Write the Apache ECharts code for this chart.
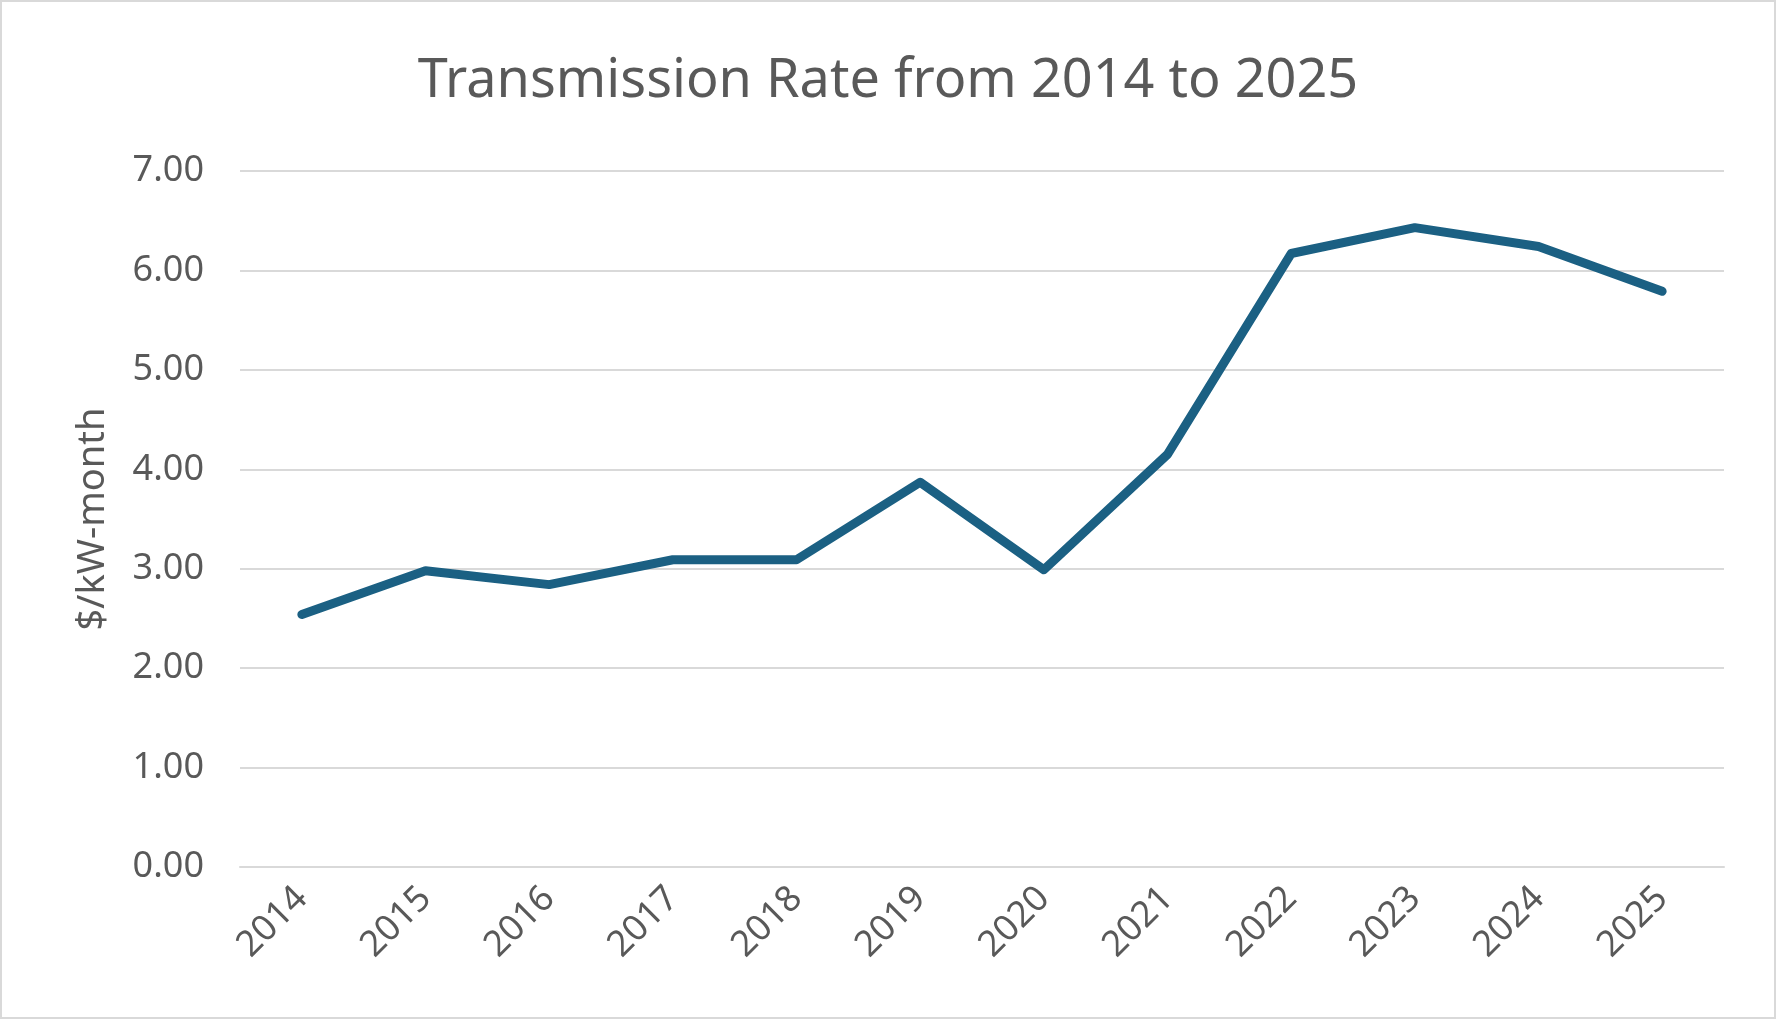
<!DOCTYPE html>
<html>
<head>
<meta charset="utf-8">
<title>Transmission Rate from 2014 to 2025</title>
<script src="https://cdn.jsdelivr.net/npm/echarts@6/dist/echarts.min.js"></script>
<style>
    html, body { margin: 0; padding: 0; background: #fff; }
    #chart { width: 1776px; height: 1019px; box-sizing: border-box; border: 2px solid #d9d9d9; }
</style>
</head>
<body>
<div id="chart"></div>
<script>
//数据
var years = ["2014", "2015", "2016", "2017", "2018", "2019", "2020", "2021", "2022", "2023", "2024", "2025"];
var rates = [2.54, 2.98, 2.84, 3.09, 3.09, 3.87, 2.99, 4.15, 6.17, 6.43, 6.24, 5.79];
var yTicks = [0, 1, 2, 3, 4, 5, 6, 7];

var textColor = "#595959";
var fontName = "Noto Sans";

//初始化图表实例
var rateChart = echarts.init(document.getElementById("chart"));

//图表配置项
var option = {
    animation: false,
    title: {
        text: "Transmission Rate from 2014 to 2025",
        left: "center",
        top: 48,
        textStyle: {
            color: textColor,
            fontFamily: fontName,
            fontSize: 54,
            fontWeight: "normal"
        }
    },
    grid: {
        left: 238,
        right: 50,
        top: 169,
        bottom: 150,
        containLabel: false
    },
    xAxis: {
        type: "category",
        data: years,
        boundaryGap: true,
        axisLine: { show: true, lineStyle: { color: "#d9d9d9", width: 2 } },
        axisTick: { show: false },
        axisLabel: {
            rotate: 45,
            margin: 26,
            color: textColor,
            fontFamily: fontName,
            fontSize: 36
        }
    },
    yAxis: {
        type: "value",
        min: yTicks[0],
        max: yTicks[yTicks.length - 1],
        interval: 1,
        name: "$/kW-month",
        nameLocation: "middle",
        nameGap: 128,
        nameRotate: 90,
        nameTextStyle: {
            color: textColor,
            fontFamily: fontName,
            fontSize: 38
        },
        axisLine: { show: false },
        axisTick: { show: false },
        axisLabel: {
            margin: 36,
            color: textColor,
            fontFamily: fontName,
            fontSize: 36,
            formatter: function(v) { return v.toFixed(2); }
        },
        splitLine: { lineStyle: { color: "#d9d9d9", width: 2 } }
    },
    series: [
        {
            name: "Transmission Rate",
            type: "line",
            data: rates,
            symbol: "none",
            lineStyle: { color: "#1b6083", width: 9, cap: "round", join: "round" }
        }
    ]
};

//使用以上配置项配置图表
rateChart.setOption(option);
</script>
</body>
</html>
